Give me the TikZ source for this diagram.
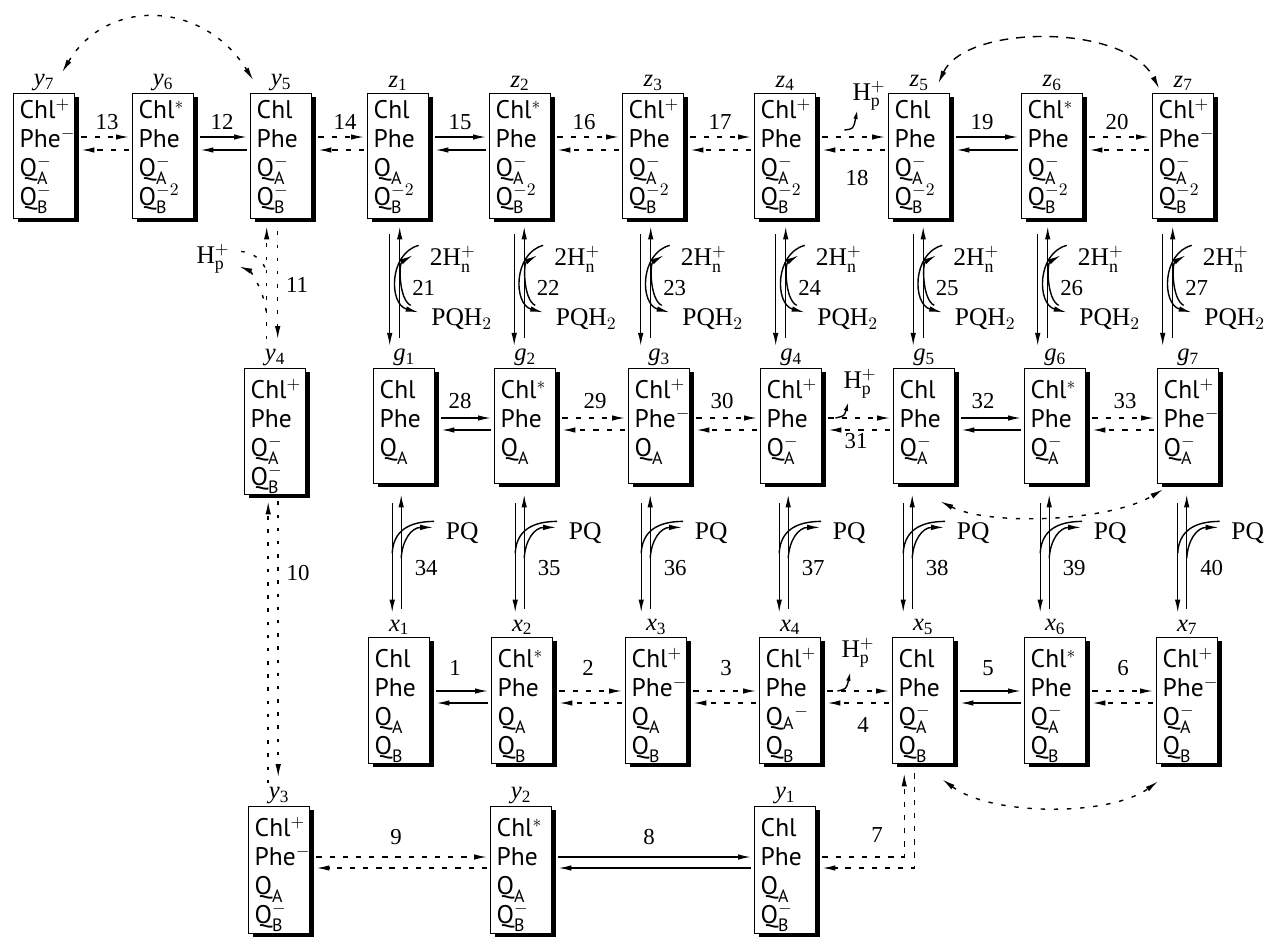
\documentclass[tikz,border=0pt]{standalone}
\usepackage{amsmath}
\usepackage{fontspec}
\setmainfont{Liberation Serif}
\newfontfamily\bxf{PT Sans}
\usetikzlibrary{arrows.meta,calc,positioning,shadows}

\newcommand\cell[3][0.5pt]{\parbox[c][#2][t]{1.22cm}{\bxf\fontsize{14.5}{16.5}\selectfont
  \lineskiplimit=-20pt\raggedright\leftskip=0.12cm\mbox{}\\[#1]#3}}
\newcommand\chl[1]{Chl$^{#1}$}
\newcommand\qq[2]{Q$_{\text{#1}}^{#2}$}
\newcommand\Hp{H$_\text{p}^+$}
\newcommand\lb[2]{\textit{#1}\textsubscript{#2}}

\tikzset{
  st/.style={draw, fill=white, line width=0.8pt, inner sep=0pt, anchor=north west,
    general shadow={fill=black, shadow xshift=2.3pt, shadow yshift=-1.8pt}},
  lab/.style={anchor=south, inner sep=1pt, font=\fontsize{14}{14}\selectfont},
  num/.style={inner sep=1pt, font=\fontsize{13}{13}\selectfont},
  chem/.style={inner sep=1pt, font=\fontsize{14.5}{14.5}\selectfont},
  ln/.style={line width=0.8pt},
  arr/.style={ln, -{Latex[length=0.26cm,width=0.11cm]}},
  sarr/.style={ln, -{Latex[length=0.18cm,width=0.09cm]}},
  dsh/.style={arr, dash pattern=on 3pt off 4.5pt},
  dt/.style={ln, dash pattern=on 2pt off 5.5pt},
  dts/.style={dt, -{Latex[length=0.26cm,width=0.11cm]}},
  arc/.style={ln, dash pattern=on 2.5pt off 5pt,
    {Latex[length=0.26cm,width=0.11cm]}-{Latex[length=0.26cm,width=0.11cm]}}
}

\begin{document}
\begin{tikzpicture}[x=0.02cm, y=-0.02cm]
\useasboundingbox (0,0) rectangle (1266,936);

% upper row: y7 y6 y5 z1 ... z7
\node[st] (y7) at (13,93) {\cell[-2.3pt]{2.5cm}{\chl+\\Phe$^-$\\\qq A-\\\qq B-}};
\node[st] (y6) at (132,93) {\cell[-2.3pt]{2.5cm}{\chl*\\Phe\\\qq A-\\\qq B{-2}}};
\node[st] (y5) at (250,93) {\cell[-2.3pt]{2.5cm}{Chl\\Phe\\\qq A-\\\qq B-}};
\node[st] (z1) at (367,93) {\cell[-2.3pt]{2.5cm}{Chl\\Phe\\\qq A{}\\\qq B{-2}}};
\node[st] (z2) at (489,93) {\cell[-2.3pt]{2.5cm}{\chl*\\Phe\\\qq A-\\\qq B{-2}}};
\node[st] (z3) at (622,93) {\cell[-2.3pt]{2.5cm}{\chl+\\Phe\\\qq A-\\\qq B{-2}}};
\node[st] (z4) at (754,93) {\cell[-2.3pt]{2.5cm}{\chl+\\Phe\\\qq A-\\\qq B{-2}}};
\node[st] (z5) at (888,93) {\cell[-2.3pt]{2.5cm}{Chl\\Phe\\\qq A-\\\qq B{-2}}};
\node[st] (z6) at (1021,93) {\cell[-2.3pt]{2.5cm}{\chl*\\Phe\\\qq A-\\\qq B{-2}}};
\node[st] (z7) at (1152,93) {\cell[-2.3pt]{2.5cm}{\chl+\\Phe$^-$\\\qq A-\\\qq B{-2}}};

% middle row: y4 g1 ... g7
\node[st] (y4) at (244,368) {\cell{2.52cm}{\chl+\\Phe\\\qq A-\\\qq B-}};
\node[st] (g1) at (373,368) {\cell{2.3cm}{Chl\\Phe\\\qq A{}}};
\node[st] (g2) at (494,368) {\cell{2.3cm}{\chl*\\Phe\\\qq A{}}};
\node[st] (g3) at (628,368) {\cell{2.3cm}{\chl+\\Phe$^-$\\\qq A{}}};
\node[st] (g4) at (760,368) {\cell{2.3cm}{\chl+\\Phe\\\qq A-}};
\node[st] (g5) at (893,368) {\cell{2.3cm}{Chl\\Phe\\\qq A-}};
\node[st] (g6) at (1024,368) {\cell{2.3cm}{\chl*\\Phe\\\qq A-}};
\node[st] (g7) at (1157,368) {\cell{2.3cm}{\chl+\\Phe$^-$\\\qq A-}};

% x row
\node[st] (x1) at (368,637) {\cell{2.52cm}{Chl\\Phe\\\qq A{}\\\qq B{}}};
\node[st] (x2) at (491,637) {\cell{2.52cm}{\chl*\\Phe\\\qq A{}\\\qq B{}}};
\node[st] (x3) at (625,637) {\cell{2.52cm}{\chl+\\Phe$^-$\\\qq A{}\\\qq B{}}};
\node[st] (x4) at (759,637) {\cell{2.52cm}{\chl+\\Phe\\Q$_\text{A}{}^-$\\\qq B{}}};
\node[st] (x5) at (892,637) {\cell{2.52cm}{Chl\\Phe\\\qq A-\\\qq B{}}};
\node[st] (x6) at (1024,637) {\cell{2.52cm}{\chl*\\Phe\\\qq A-\\\qq B{}}};
\node[st] (x7) at (1156,637) {\cell{2.52cm}{\chl+\\Phe$^-$\\\qq A-\\\qq B{}}};

% lower row
\node[st] (y3) at (248,806) {\cell{2.54cm}{\chl+\\Phe$^-$\\\qq A{}\\\qq B-}};
\node[st] (y2) at (490,806) {\cell{2.54cm}{\chl*\\Phe\\\qq A{}\\\qq B-}};
\node[st] (y1) at (754,806) {\cell{2.54cm}{Chl\\Phe\\\qq A{}\\\qq B-}};

% state labels
\foreach \s/\l/\k in {y7/y/7, y6/y/6, y5/y/5, y4/y/4, y3/y/3, y2/y/2, y1/y/1}
  \node[lab] (l\s) at (\s.north) {\lb{\l}{\k}};
\foreach \k in {1,...,7}{
  \node[lab] (lz\k) at (z\k.north) {\lb{z}{\k}};
  \node[lab] (lg\k) at (g\k.north) {\lb{g}{\k}};
  \node[lab] (lx\k) at (x\k.north) {\lb{x}{\k}};
}

% horizontal pairs
\foreach \a/\b/\s in {y7/y6/dsh, y6/y5/arr, y5/z1/dsh, z1/z2/arr, z2/z3/dsh, z3/z4/dsh, z4/z5/dsh, z5/z6/arr, z6/z7/dsh}{
  \draw[\s] ($(\a.north east)+(6,44)$) -- ($(\b.north west)+(-3,44)$);
  \draw[\s] ($(\b.north west)+(-3,57)$) -- ($(\a.north east)+(6,57)$);
}
\foreach \a/\b/\s in {g1/g2/arr, g2/g3/dsh, g3/g4/dsh, g4/g5/dsh, g5/g6/arr, g6/g7/dsh}{
  \draw[\s] ($(\a.north east)+(6,50)$) -- ($(\b.north west)+(-3,50)$);
  \draw[\s] ($(\b.north west)+(-3,62)$) -- ($(\a.north east)+(6,62)$);
}
\foreach \a/\b/\s in {x1/x2/arr, x2/x3/dsh, x3/x4/dsh, x4/x5/dsh, x5/x6/arr, x6/x7/dsh}{
  \draw[\s] ($(\a.north east)+(6,54)$) -- ($(\b.north west)+(-3,54)$);
  \draw[\s] ($(\b.north west)+(-3,66)$) -- ($(\a.north east)+(6,66)$);
}
\foreach \a/\b/\s in {y3/y2/dsh, y2/y1/arr}{
  \draw[\s] ($(\a.north east)+(6,51)$) -- ($(\b.north west)+(-3,51)$);
  \draw[\s] ($(\b.north west)+(-3,62)$) -- ($(\a.north east)+(6,62)$);
}

% reaction numbers
\foreach \n/\px/\py in {13/107/122, 12/222/122, 14/345/122, 15/460/122, 16/584/122, 17/720/122,
  18/857/178, 19/982/122, 20/1117/122, 28/460/401, 29/595/401, 30/722/401, 31/856/441,
  32/983/401, 33/1125/401, 1/455/668, 2/588/668, 3/726/668, 4/863/725, 5/988/668,
  6/1123/668, 9/396/837, 8/649/837, 7/877/835, 10/298/573, 11/297/285}
  \node[num] (n\n) at (\px,\py) {\n};

% protons released on the p side
\node[chem] (hp1) at (869,96) {\Hp};
\draw[sarr] ($(z4.north east)+(28,37)$) .. controls +(9,-1) .. ($(z4.north east)+(41,17)$);
\node[chem] (hp2) at (860,384) {\Hp};
\draw[sarr] ($(g4.north east)+(13,50)$) .. controls +(9,-2) .. ($(g4.north east)+(26,34)$);
\node[chem] (hp3) at (858,653) {\Hp};
\draw[sarr] ($(x4.north east)+(16,54)$) .. controls +(9,-2) .. ($(x4.north east)+(29,35)$);
\node[chem] (hp0) at (213,259) {\Hp};

% z -> g, QB reduction with 2H+ uptake and PQH2 release
\foreach \i/\dx/\n in {1/-8.5/21, 2/-6/22, 3/-12.5/23, 4/-9.5/24, 5/-6/25, 6/-14.5/26, 7/-20.5/27}{
  \coordinate (zd\i) at ($(z\i.south)+(\dx,15)$);
  \coordinate (zu\i) at ($(z\i.south)+(\dx+10,7)$);
  \draw[arr] (zd\i) -- ($(zd\i |- lg\i.north)+(0,-1)$);
  \draw[arr] ($(zu\i |- lg\i.north)+(0,-9)$) -- (zu\i);
  \draw[arr] ($(zd\i)+(29,11)$) .. controls +(-30,8) and +(-30,-8) .. ($(zd\i)+(29,78)$);
  \draw[arr] ($(zd\i)+(21,71)$) .. controls +(-12,-6) and +(-14,8) .. ($(zd\i)+(23,21)$);
  \node[chem] (h\i) at ($(zd\i)+(63,25)$) {2H$_\text{n}^+$};
  \node[num] (n\n) at ($(zd\i)+(34,54)$) {\n};
  \node[chem] (q\i) at ($(zd\i)+(72,85)$) {PQH$_2$};
}

% g -> x, PQ binding
\foreach \i/\dx/\n in {1/-12/34, 2/-10/35, 3/-18/36, 4/-12/37, 5/-21/38, 6/-15/39, 7/-10.5/40}{
  \coordinate (gd\i) at ($(g\i.south)+(\dx,19)$);
  \coordinate (gu\i) at ($(g\i.south)+(\dx+9,10)$);
  \draw[arr] (gd\i) -- ($(gd\i |- lx\i.north)+(0,-5)$);
  \draw[arr] ($(gu\i |- lx\i.north)+(0,-9)$) -- (gu\i);
  \draw[ln] ($(gd\i)+(0,50)$) .. controls +(1,-22) and +(-26,0) .. ($(gd\i)+(42,18)$);
  \draw[arr] ($(gd\i)+(9,55)$) .. controls +(1,-18) and +(-22,0) .. ($(gd\i)+(41,24)$);
  \node[chem] (pq\i) at ($(gd\i)+(70,30)$) {PQ};
  \node[num] (n\n) at ($(gd\i)+(34,65)$) {\n};
}

% y5 <-> y4 (11)
\coordinate (ya) at ($(y5.south)+(-14.5,7)$);
\coordinate (yb) at ($(y5.south)+(-3.5,12)$);
\draw[dts] ($(ya |- ly4.north)+(0,-8)$) -- (ya);
\draw[dts] (yb) -- ($(yb |- ly4.north)+(0,-8)$);
\draw[dts] ($(y5.south)+(-15,92)$) .. controls +(-3,-24) and +(10,4) .. ($(y5.south)+(-42,47)$);
\draw[dt] ($(y5.south)+(-40,32)$) .. controls +(16,2) and +(-3,-8) .. ($(y5.south)+(-14.5,52)$);

% y4 <-> y3 (10)
\coordinate (yc) at ($(y4.south)+(-7,6)$);
\coordinate (yd) at ($(y4.south)+(3,6)$);
\draw[dts] ($(yc |- ly3.north)+(0,-2)$) -- (yc);
\draw[dts] (yd) -- ($(yd |- ly3.north)+(0,-8)$);

% x5 <-> y1 (7)
\draw[dsh] ($(y1.north east)+(6,51)$) -| ($(x5.south)+(-19,9)$);
\draw[dsh] ($(x5.south)+(-9,9)$) |- ($(y1.north east)+(6,62)$);

% long range links
\draw[arc] ($(ly7.north)+(18,0)$) .. controls +(45,-75) and +(-50,-80) .. ($(ly5.north)+(-28,8)$);
\draw[arc, dash pattern=on 5pt off 4.5pt] ($(lz5.north)+(19,10)$) .. controls +(28,-60) and +(-33,-65) .. ($(lz7.north)+(-24,15)$);
\draw[arc] ($(g5.south east)+(-15,17)$) .. controls +(50,25) and +(-53,32) .. ($(g7.south west)+(6,5)$);
\draw[arc] ($(x5.south east)+(-12,15)$) .. controls +(50,37) and +(-48,35) .. ($(x7.south west)+(2,17)$);
\end{tikzpicture}
\end{document}
